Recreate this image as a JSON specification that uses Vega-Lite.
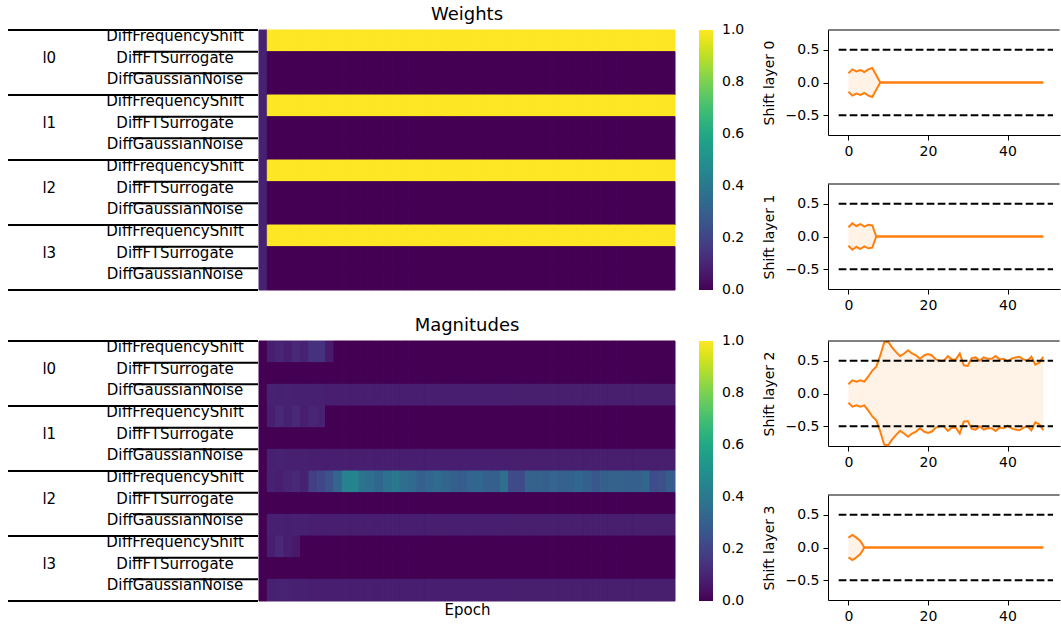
{
  "$schema": "https://vega.github.io/schema/vega-lite/v6.json",
  "background": "white",
  "padding": {"left": 7, "top": 5, "right": 0, "bottom": 0},
  "config": {
    "font": "DejaVu Sans",
    "view": {"stroke": null},
    "axis": {"labelColor": "black", "titleColor": "black", "domainColor": "black", "tickColor": "black", "titleFontWeight": "normal", "grid": false},
    "title": {"fontWeight": "normal", "fontSize": 18, "color": "black", "anchor": "middle", "offset": 6},
    "legend": {"labelColor": "black"}
  },
  "datasets": {
    "cells": [
      {"layer": "l0", "op": "DiffFrequencyShift",
       "epoch": [0,1,2,3,4,5,6,7,8,9,10,11,12,13,14,15,16,17,18,19,20,21,22,23,24,25,26,27,28,29,30,31,32,33,34,35,36,37,38,39,40,41,42,43,44,45,46,47,48,49],
       "weight": [0.09,1,1,1,1,1,1,1,1,1,1,1,1,1,1,1,1,1,1,1,1,1,1,1,1,1,1,1,1,1,1,1,1,1,1,1,1,1,1,1,1,1,1,1,1,1,1,1,1,1],
       "magnitude": [0,0.08,0.1,0.08,0.11,0.09,0.14,0.14,0.07,0,0,0,0,0,0,0,0,0,0,0,0,0,0,0,0,0,0,0,0,0,0,0,0,0,0,0,0,0,0,0,0,0,0,0,0,0,0,0,0,0]},
      {"layer": "l0", "op": "DiffFTSurrogate",
       "epoch": [0,1,2,3,4,5,6,7,8,9,10,11,12,13,14,15,16,17,18,19,20,21,22,23,24,25,26,27,28,29,30,31,32,33,34,35,36,37,38,39,40,41,42,43,44,45,46,47,48,49],
       "weight": [0.09,0,0,0,0,0,0,0,0,0,0,0,0,0,0,0,0,0,0,0,0,0,0,0,0,0,0,0,0,0,0,0,0,0,0,0,0,0,0,0,0,0,0,0,0,0,0,0,0,0],
       "magnitude": [0,0,0,0,0,0,0,0,0,0,0,0,0,0,0,0,0,0,0,0,0,0,0,0,0,0,0,0,0,0,0,0,0,0,0,0,0,0,0,0,0,0,0,0,0,0,0,0,0,0]},
      {"layer": "l0", "op": "DiffGaussianNoise",
       "epoch": [0,1,2,3,4,5,6,7,8,9,10,11,12,13,14,15,16,17,18,19,20,21,22,23,24,25,26,27,28,29,30,31,32,33,34,35,36,37,38,39,40,41,42,43,44,45,46,47,48,49],
       "weight": [0.09,0,0,0,0,0,0,0,0,0,0,0,0,0,0,0,0,0,0,0,0,0,0,0,0,0,0,0,0,0,0,0,0,0,0,0,0,0,0,0,0,0,0,0,0,0,0,0,0,0],
       "magnitude": [0,0.09,0.085,0.09,0.085,0.085,0.085,0.085,0.08,0.08,0.08,0.08,0.08,0.08,0.08,0.08,0.08,0.08,0.08,0.08,0.08,0.08,0.08,0.08,0.08,0.08,0.08,0.08,0.08,0.08,0.078,0.078,0.078,0.078,0.078,0.078,0.078,0.078,0.078,0.078,0.078,0.078,0.078,0.078,0.078,0.078,0.078,0.078,0.078,0.078]},
      {"layer": "l1", "op": "DiffFrequencyShift",
       "epoch": [0,1,2,3,4,5,6,7,8,9,10,11,12,13,14,15,16,17,18,19,20,21,22,23,24,25,26,27,28,29,30,31,32,33,34,35,36,37,38,39,40,41,42,43,44,45,46,47,48,49],
       "weight": [0.09,1,1,1,1,1,1,1,1,1,1,1,1,1,1,1,1,1,1,1,1,1,1,1,1,1,1,1,1,1,1,1,1,1,1,1,1,1,1,1,1,1,1,1,1,1,1,1,1,1],
       "magnitude": [0,0.08,0.11,0.09,0.11,0.08,0.1,0.09,0,0,0,0,0,0,0,0,0,0,0,0,0,0,0,0,0,0,0,0,0,0,0,0,0,0,0,0,0,0,0,0,0,0,0,0,0,0,0,0,0,0]},
      {"layer": "l1", "op": "DiffFTSurrogate",
       "epoch": [0,1,2,3,4,5,6,7,8,9,10,11,12,13,14,15,16,17,18,19,20,21,22,23,24,25,26,27,28,29,30,31,32,33,34,35,36,37,38,39,40,41,42,43,44,45,46,47,48,49],
       "weight": [0.09,0,0,0,0,0,0,0,0,0,0,0,0,0,0,0,0,0,0,0,0,0,0,0,0,0,0,0,0,0,0,0,0,0,0,0,0,0,0,0,0,0,0,0,0,0,0,0,0,0],
       "magnitude": [0,0,0,0,0,0,0,0,0,0,0,0,0,0,0,0,0,0,0,0,0,0,0,0,0,0,0,0,0,0,0,0,0,0,0,0,0,0,0,0,0,0,0,0,0,0,0,0,0,0]},
      {"layer": "l1", "op": "DiffGaussianNoise",
       "epoch": [0,1,2,3,4,5,6,7,8,9,10,11,12,13,14,15,16,17,18,19,20,21,22,23,24,25,26,27,28,29,30,31,32,33,34,35,36,37,38,39,40,41,42,43,44,45,46,47,48,49],
       "weight": [0.09,0,0,0,0,0,0,0,0,0,0,0,0,0,0,0,0,0,0,0,0,0,0,0,0,0,0,0,0,0,0,0,0,0,0,0,0,0,0,0,0,0,0,0,0,0,0,0,0,0],
       "magnitude": [0,0.085,0.09,0.085,0.085,0.085,0.08,0.08,0.08,0.08,0.08,0.08,0.08,0.08,0.08,0.08,0.08,0.08,0.08,0.08,0.08,0.08,0.08,0.08,0.08,0.08,0.08,0.08,0.08,0.08,0.078,0.078,0.078,0.078,0.078,0.078,0.078,0.078,0.078,0.078,0.078,0.078,0.078,0.078,0.078,0.078,0.078,0.078,0.078,0.078]},
      {"layer": "l2", "op": "DiffFrequencyShift",
       "epoch": [0,1,2,3,4,5,6,7,8,9,10,11,12,13,14,15,16,17,18,19,20,21,22,23,24,25,26,27,28,29,30,31,32,33,34,35,36,37,38,39,40,41,42,43,44,45,46,47,48,49],
       "weight": [0.09,1,1,1,1,1,1,1,1,1,1,1,1,1,1,1,1,1,1,1,1,1,1,1,1,1,1,1,1,1,1,1,1,1,1,1,1,1,1,1,1,1,1,1,1,1,1,1,1,1],
       "magnitude": [0,0.09,0.08,0.1,0.11,0.09,0.18,0.21,0.25,0.32,0.44,0.45,0.38,0.36,0.33,0.37,0.4,0.36,0.34,0.3,0.33,0.34,0.33,0.3,0.29,0.32,0.33,0.3,0.3,0.36,0.22,0.22,0.31,0.31,0.3,0.32,0.3,0.31,0.33,0.3,0.27,0.3,0.31,0.31,0.3,0.3,0.33,0.23,0.24,0.29]},
      {"layer": "l2", "op": "DiffFTSurrogate",
       "epoch": [0,1,2,3,4,5,6,7,8,9,10,11,12,13,14,15,16,17,18,19,20,21,22,23,24,25,26,27,28,29,30,31,32,33,34,35,36,37,38,39,40,41,42,43,44,45,46,47,48,49],
       "weight": [0.09,0,0,0,0,0,0,0,0,0,0,0,0,0,0,0,0,0,0,0,0,0,0,0,0,0,0,0,0,0,0,0,0,0,0,0,0,0,0,0,0,0,0,0,0,0,0,0,0,0],
       "magnitude": [0,0,0,0,0,0,0,0,0,0,0,0,0,0,0,0,0,0,0,0,0,0,0,0,0,0,0,0,0,0,0,0,0,0,0,0,0,0,0,0,0,0,0,0,0,0,0,0,0,0]},
      {"layer": "l2", "op": "DiffGaussianNoise",
       "epoch": [0,1,2,3,4,5,6,7,8,9,10,11,12,13,14,15,16,17,18,19,20,21,22,23,24,25,26,27,28,29,30,31,32,33,34,35,36,37,38,39,40,41,42,43,44,45,46,47,48,49],
       "weight": [0.09,0,0,0,0,0,0,0,0,0,0,0,0,0,0,0,0,0,0,0,0,0,0,0,0,0,0,0,0,0,0,0,0,0,0,0,0,0,0,0,0,0,0,0,0,0,0,0,0,0],
       "magnitude": [0,0.085,0.085,0.08,0.085,0.085,0.08,0.08,0.08,0.08,0.08,0.08,0.08,0.08,0.08,0.08,0.08,0.08,0.08,0.08,0.08,0.08,0.08,0.08,0.08,0.08,0.08,0.08,0.08,0.08,0.078,0.078,0.078,0.078,0.078,0.078,0.078,0.078,0.078,0.078,0.078,0.078,0.078,0.078,0.078,0.078,0.078,0.078,0.078,0.078]},
      {"layer": "l3", "op": "DiffFrequencyShift",
       "epoch": [0,1,2,3,4,5,6,7,8,9,10,11,12,13,14,15,16,17,18,19,20,21,22,23,24,25,26,27,28,29,30,31,32,33,34,35,36,37,38,39,40,41,42,43,44,45,46,47,48,49],
       "weight": [0.09,1,1,1,1,1,1,1,1,1,1,1,1,1,1,1,1,1,1,1,1,1,1,1,1,1,1,1,1,1,1,1,1,1,1,1,1,1,1,1,1,1,1,1,1,1,1,1,1,1],
       "magnitude": [0,0.08,0.11,0.08,0.06,0,0,0,0,0,0,0,0,0,0,0,0,0,0,0,0,0,0,0,0,0,0,0,0,0,0,0,0,0,0,0,0,0,0,0,0,0,0,0,0,0,0,0,0,0]},
      {"layer": "l3", "op": "DiffFTSurrogate",
       "epoch": [0,1,2,3,4,5,6,7,8,9,10,11,12,13,14,15,16,17,18,19,20,21,22,23,24,25,26,27,28,29,30,31,32,33,34,35,36,37,38,39,40,41,42,43,44,45,46,47,48,49],
       "weight": [0.09,0,0,0,0,0,0,0,0,0,0,0,0,0,0,0,0,0,0,0,0,0,0,0,0,0,0,0,0,0,0,0,0,0,0,0,0,0,0,0,0,0,0,0,0,0,0,0,0,0],
       "magnitude": [0,0,0,0,0,0,0,0,0,0,0,0,0,0,0,0,0,0,0,0,0,0,0,0,0,0,0,0,0,0,0,0,0,0,0,0,0,0,0,0,0,0,0,0,0,0,0,0,0,0]},
      {"layer": "l3", "op": "DiffGaussianNoise",
       "epoch": [0,1,2,3,4,5,6,7,8,9,10,11,12,13,14,15,16,17,18,19,20,21,22,23,24,25,26,27,28,29,30,31,32,33,34,35,36,37,38,39,40,41,42,43,44,45,46,47,48,49],
       "weight": [0.09,0,0,0,0,0,0,0,0,0,0,0,0,0,0,0,0,0,0,0,0,0,0,0,0,0,0,0,0,0,0,0,0,0,0,0,0,0,0,0,0,0,0,0,0,0,0,0,0,0],
       "magnitude": [0,0.085,0.09,0.09,0.085,0.085,0.08,0.08,0.08,0.08,0.08,0.08,0.08,0.08,0.08,0.08,0.08,0.08,0.08,0.08,0.08,0.08,0.08,0.08,0.08,0.08,0.08,0.08,0.08,0.08,0.078,0.078,0.078,0.078,0.078,0.078,0.078,0.078,0.078,0.078,0.078,0.078,0.078,0.078,0.078,0.078,0.078,0.078,0.078,0.078]}
    ],
    "shifts": [
      {"layer": 0,
       "epoch": [0,1,2,3,4,5,6,7,8,9,10,11,12,13,14,15,16,17,18,19,20,21,22,23,24,25,26,27,28,29,30,31,32,33,34,35,36,37,38,39,40,41,42,43,44,45,46,47,48,49],
       "high": [0.14,0.2,0.17,0.19,0.16,0.2,0.22,0.11,0,0,0,0,0,0,0,0,0,0,0,0,0,0,0,0,0,0,0,0,0,0,0,0,0,0,0,0,0,0,0,0,0,0,0,0,0,0,0,0,0,0],
       "low": [-0.14,-0.2,-0.17,-0.19,-0.16,-0.2,-0.22,-0.11,0,0,0,0,0,0,0,0,0,0,0,0,0,0,0,0,0,0,0,0,0,0,0,0,0,0,0,0,0,0,0,0,0,0,0,0,0,0,0,0,0,0]},
      {"layer": 1,
       "epoch": [0,1,2,3,4,5,6,7,8,9,10,11,12,13,14,15,16,17,18,19,20,21,22,23,24,25,26,27,28,29,30,31,32,33,34,35,36,37,38,39,40,41,42,43,44,45,46,47,48,49],
       "high": [0.14,0.2,0.16,0.19,0.15,0.18,0.17,0,0,0,0,0,0,0,0,0,0,0,0,0,0,0,0,0,0,0,0,0,0,0,0,0,0,0,0,0,0,0,0,0,0,0,0,0,0,0,0,0,0,0],
       "low": [-0.14,-0.2,-0.16,-0.19,-0.15,-0.18,-0.17,0,0,0,0,0,0,0,0,0,0,0,0,0,0,0,0,0,0,0,0,0,0,0,0,0,0,0,0,0,0,0,0,0,0,0,0,0,0,0,0,0,0,0]},
      {"layer": 2,
       "epoch": [0,1,2,3,4,5,6,7,8,9,10,11,12,13,14,15,16,17,18,19,20,21,22,23,24,25,26,27,28,29,30,31,32,33,34,35,36,37,38,39,40,41,42,43,44,45,46,47,48,49],
       "high": [0.14,0.2,0.18,0.2,0.18,0.26,0.35,0.41,0.58,0.78,0.79,0.7,0.63,0.57,0.61,0.66,0.61,0.58,0.53,0.58,0.6,0.58,0.52,0.5,0.5,0.57,0.52,0.52,0.61,0.43,0.42,0.54,0.55,0.5,0.55,0.53,0.53,0.57,0.52,0.53,0.49,0.53,0.55,0.56,0.52,0.5,0.56,0.44,0.47,0.56],
       "low": [-0.14,-0.2,-0.18,-0.2,-0.18,-0.26,-0.35,-0.41,-0.58,-0.78,-0.79,-0.7,-0.63,-0.57,-0.61,-0.66,-0.61,-0.58,-0.53,-0.58,-0.6,-0.58,-0.52,-0.5,-0.5,-0.57,-0.52,-0.52,-0.61,-0.43,-0.42,-0.54,-0.55,-0.5,-0.55,-0.53,-0.53,-0.57,-0.52,-0.53,-0.49,-0.53,-0.55,-0.56,-0.52,-0.5,-0.56,-0.44,-0.47,-0.56]},
      {"layer": 3,
       "epoch": [0,1,2,3,4,5,6,7,8,9,10,11,12,13,14,15,16,17,18,19,20,21,22,23,24,25,26,27,28,29,30,31,32,33,34,35,36,37,38,39,40,41,42,43,44,45,46,47,48,49],
       "high": [0.15,0.19,0.15,0.1,0,0,0,0,0,0,0,0,0,0,0,0,0,0,0,0,0,0,0,0,0,0,0,0,0,0,0,0,0,0,0,0,0,0,0,0,0,0,0,0,0,0,0,0,0,0],
       "low": [-0.15,-0.19,-0.15,-0.1,0,0,0,0,0,0,0,0,0,0,0,0,0,0,0,0,0,0,0,0,0,0,0,0,0,0,0,0,0,0,0,0,0,0,0,0,0,0,0,0,0,0,0,0,0,0]}
    ]
  },
  "spacing": 17,
  "hconcat": [
    {
      "spacing": 19,
      "resolve": {"scale": {"color": "independent"}, "legend": {"color": "independent"}},
      "vconcat": [
        {
          "spacing": -1,
          "resolve": {"scale": {"color": "independent"}, "legend": {"color": "independent"}},
          "hconcat": [
            {
              "width": 250, "height": 260,
              "data": {"name": "cells"},
              "transform": [{"calculate": "datum.layer + ' ' + datum.op", "as": "slot"}],
              "encoding": {
                "y": {"field": "slot", "type": "nominal", "axis": null,
                      "scale": {"domain": ["l0 DiffFrequencyShift","l0 DiffFTSurrogate","l0 DiffGaussianNoise","l1 DiffFrequencyShift","l1 DiffFTSurrogate","l1 DiffGaussianNoise","l2 DiffFrequencyShift","l2 DiffFTSurrogate","l2 DiffGaussianNoise","l3 DiffFrequencyShift","l3 DiffFTSurrogate","l3 DiffGaussianNoise"], "paddingInner": 0, "paddingOuter": 0}}
              },
              "layer": [
                {"mark": {"type": "text", "fontSize": 15, "align": "center", "baseline": "alphabetic", "color": "black"},
                 "encoding": {"x": {"datum": 0.668, "type": "quantitative", "scale": {"domain": [0, 1]}, "axis": null}, "text": {"field": "op"}}},
                {"transform": [{"filter": "datum.op === 'DiffFTSurrogate'"}],
                 "mark": {"type": "text", "fontSize": 15, "align": "center", "baseline": "alphabetic", "color": "black"},
                 "encoding": {"x": {"datum": 0.165, "type": "quantitative"}, "text": {"field": "layer"}}},
                {"transform": [{"filter": "datum.op === 'DiffFrequencyShift'"}],
                 "mark": {"type": "rule", "color": "black", "strokeWidth": 2},
                 "encoding": {"x": {"datum": 0, "type": "quantitative"}, "x2": {"datum": 1}, "y": {"field": "slot", "type": "nominal", "bandPosition": 0}}},
                {"transform": [{"filter": "datum.op === 'DiffGaussianNoise'"}],
                 "mark": {"type": "rule", "color": "black", "strokeWidth": 2},
                 "encoding": {"x": {"datum": 0, "type": "quantitative"}, "x2": {"datum": 1}, "y": {"field": "slot", "type": "nominal", "bandPosition": 1}}},
                {"mark": {"type": "rule", "color": "black", "strokeWidth": 2},
                 "encoding": {"x": {"datum": 0.5, "type": "quantitative"}, "x2": {"datum": 1}, "y": {"field": "slot", "type": "nominal", "bandPosition": 0}}}
              ]
            },
            {
              "width": 416, "height": 260,
              "title": "Weights",
              "data": {"name": "cells"},
              "transform": [{"flatten": ["epoch", "weight", "magnitude"]}, {"calculate": "datum.layer + ' ' + datum.op", "as": "slot"}],
              "mark": {"type": "rect", "strokeWidth": 1},
              "encoding": {
                "x": {"field": "epoch", "type": "ordinal", "axis": null, "scale": {"paddingInner": 0, "paddingOuter": 0}},
                "y": {"field": "slot", "type": "nominal", "axis": null,
                      "scale": {"domain": ["l0 DiffFrequencyShift","l0 DiffFTSurrogate","l0 DiffGaussianNoise","l1 DiffFrequencyShift","l1 DiffFTSurrogate","l1 DiffGaussianNoise","l2 DiffFrequencyShift","l2 DiffFTSurrogate","l2 DiffGaussianNoise","l3 DiffFrequencyShift","l3 DiffFTSurrogate","l3 DiffGaussianNoise"], "paddingInner": 0, "paddingOuter": 0}},
                "stroke": {"field": "weight", "type": "quantitative", "scale": {"scheme": "viridis", "domain": [0, 1]}, "legend": null},
                "color": {"field": "weight", "type": "quantitative", "scale": {"scheme": "viridis", "domain": [0, 1]},
                          "legend": {"title": null, "direction": "vertical", "gradientLength": 260, "gradientThickness": 14, "gradientStrokeWidth": 0, "labelOffset": 9, "labelFontSize": 14, "values": [0, 0.2, 0.4, 0.6, 0.8, 1], "format": ".1f", "offset": 24, "padding": 0, "labelOverlap": false,
                                     "encode": {"labels": {"update": {"baseline": {"value": "middle"}}}}}}
              }
            }
          ]
        },
        {
          "spacing": -1,
          "resolve": {"scale": {"color": "independent"}, "legend": {"color": "independent"}},
          "hconcat": [
            {
              "width": 250, "height": 260,
              "data": {"name": "cells"},
              "transform": [{"calculate": "datum.layer + ' ' + datum.op", "as": "slot"}],
              "encoding": {
                "y": {"field": "slot", "type": "nominal", "axis": null,
                      "scale": {"domain": ["l0 DiffFrequencyShift","l0 DiffFTSurrogate","l0 DiffGaussianNoise","l1 DiffFrequencyShift","l1 DiffFTSurrogate","l1 DiffGaussianNoise","l2 DiffFrequencyShift","l2 DiffFTSurrogate","l2 DiffGaussianNoise","l3 DiffFrequencyShift","l3 DiffFTSurrogate","l3 DiffGaussianNoise"], "paddingInner": 0, "paddingOuter": 0}}
              },
              "layer": [
                {"mark": {"type": "text", "fontSize": 15, "align": "center", "baseline": "alphabetic", "color": "black"},
                 "encoding": {"x": {"datum": 0.668, "type": "quantitative", "scale": {"domain": [0, 1]}, "axis": null}, "text": {"field": "op"}}},
                {"transform": [{"filter": "datum.op === 'DiffFTSurrogate'"}],
                 "mark": {"type": "text", "fontSize": 15, "align": "center", "baseline": "alphabetic", "color": "black"},
                 "encoding": {"x": {"datum": 0.165, "type": "quantitative"}, "text": {"field": "layer"}}},
                {"transform": [{"filter": "datum.op === 'DiffFrequencyShift'"}],
                 "mark": {"type": "rule", "color": "black", "strokeWidth": 2},
                 "encoding": {"x": {"datum": 0, "type": "quantitative"}, "x2": {"datum": 1}, "y": {"field": "slot", "type": "nominal", "bandPosition": 0}}},
                {"transform": [{"filter": "datum.op === 'DiffGaussianNoise'"}],
                 "mark": {"type": "rule", "color": "black", "strokeWidth": 2},
                 "encoding": {"x": {"datum": 0, "type": "quantitative"}, "x2": {"datum": 1}, "y": {"field": "slot", "type": "nominal", "bandPosition": 1}}},
                {"mark": {"type": "rule", "color": "black", "strokeWidth": 2},
                 "encoding": {"x": {"datum": 0.5, "type": "quantitative"}, "x2": {"datum": 1}, "y": {"field": "slot", "type": "nominal", "bandPosition": 0}}}
              ]
            },
            {
              "width": 416, "height": 260,
              "title": "Magnitudes",
              "data": {"name": "cells"},
              "transform": [{"flatten": ["epoch", "weight", "magnitude"]}, {"calculate": "datum.layer + ' ' + datum.op", "as": "slot"}],
              "mark": {"type": "rect", "strokeWidth": 1},
              "encoding": {
                "x": {"field": "epoch", "type": "ordinal", "scale": {"paddingInner": 0, "paddingOuter": 0},
                      "axis": {"title": "Epoch", "labels": false, "ticks": false, "domain": false, "titleFontSize": 15, "titlePadding": 1}},
                "y": {"field": "slot", "type": "nominal", "axis": null,
                      "scale": {"domain": ["l0 DiffFrequencyShift","l0 DiffFTSurrogate","l0 DiffGaussianNoise","l1 DiffFrequencyShift","l1 DiffFTSurrogate","l1 DiffGaussianNoise","l2 DiffFrequencyShift","l2 DiffFTSurrogate","l2 DiffGaussianNoise","l3 DiffFrequencyShift","l3 DiffFTSurrogate","l3 DiffGaussianNoise"], "paddingInner": 0, "paddingOuter": 0}},
                "stroke": {"field": "magnitude", "type": "quantitative", "scale": {"scheme": "viridis", "domain": [0, 1]}, "legend": null},
                "color": {"field": "magnitude", "type": "quantitative", "scale": {"scheme": "viridis", "domain": [0, 1]},
                          "legend": {"title": null, "direction": "vertical", "gradientLength": 260, "gradientThickness": 14, "gradientStrokeWidth": 0, "labelOffset": 9, "labelFontSize": 14, "values": [0, 0.2, 0.4, 0.6, 0.8, 1], "format": ".1f", "offset": 24, "padding": 0, "labelOverlap": false,
                                     "encode": {"labels": {"update": {"baseline": {"value": "middle"}}}}}}
              }
            }
          ]
        }
      ]
    },
    {
      "spacing": 25,
      "vconcat": [
        {
          "width": 232, "height": 105,
          "layer": [
            {"data": {"name": "shifts"},
             "transform": [{"filter": "datum.layer === 0"}, {"flatten": ["epoch", "high", "low"]}],
             "encoding": {
               "x": {"field": "epoch", "type": "quantitative", "scale": {"domain": [-5.14, 53.2], "nice": false, "zero": false},
                     "axis": {"values": [0, 20, 40], "title": null, "labelFontSize": 14, "tickSize": 5, "labelPadding": 4}}
             },
             "layer": [
               {"mark": {"type": "area", "color": "#ff7f0e", "opacity": 0.1},
                "encoding": {"y": {"field": "high", "type": "quantitative", "scale": {"domain": [-0.8, 0.8], "nice": false, "zero": false},
                                   "axis": {"values": [-0.5, 0, 0.5], "format": ".1f", "title": "Shift layer 0", "labelFontSize": 14, "titleFontSize": 14, "tickSize": 5, "labelPadding": 4, "titlePadding": 9}},
                             "y2": {"field": "low"}}},
               {"mark": {"type": "line", "color": "#ff7f0e", "strokeWidth": 2}, "encoding": {"y": {"field": "high", "type": "quantitative"}}},
               {"mark": {"type": "line", "color": "#ff7f0e", "strokeWidth": 2}, "encoding": {"y": {"field": "low", "type": "quantitative"}}}
             ]},
            {"data": {"values": [{"bound": 0.5}, {"bound": -0.5}]},
             "mark": {"type": "rule", "color": "black", "strokeWidth": 2, "strokeDash": [7.7, 3.3]},
             "encoding": {"x": {"datum": -2.45, "type": "quantitative"}, "x2": {"datum": 51.45}, "y": {"field": "bound", "type": "quantitative"}}},
            {"data": {"values": [{"edge": 0.8}]},
             "mark": {"type": "rule", "color": "black", "strokeWidth": 1},
             "encoding": {"x": {"datum": -5.14, "type": "quantitative"}, "x2": {"datum": 53.1}, "y": {"field": "edge", "type": "quantitative"}}}
          ]
        },
        {
          "width": 232, "height": 105,
          "layer": [
            {"data": {"name": "shifts"},
             "transform": [{"filter": "datum.layer === 1"}, {"flatten": ["epoch", "high", "low"]}],
             "encoding": {
               "x": {"field": "epoch", "type": "quantitative", "scale": {"domain": [-5.14, 53.2], "nice": false, "zero": false},
                     "axis": {"values": [0, 20, 40], "title": null, "labelFontSize": 14, "tickSize": 5, "labelPadding": 4}}
             },
             "layer": [
               {"mark": {"type": "area", "color": "#ff7f0e", "opacity": 0.1},
                "encoding": {"y": {"field": "high", "type": "quantitative", "scale": {"domain": [-0.8, 0.8], "nice": false, "zero": false},
                                   "axis": {"values": [-0.5, 0, 0.5], "format": ".1f", "title": "Shift layer 1", "labelFontSize": 14, "titleFontSize": 14, "tickSize": 5, "labelPadding": 4, "titlePadding": 9}},
                             "y2": {"field": "low"}}},
               {"mark": {"type": "line", "color": "#ff7f0e", "strokeWidth": 2}, "encoding": {"y": {"field": "high", "type": "quantitative"}}},
               {"mark": {"type": "line", "color": "#ff7f0e", "strokeWidth": 2}, "encoding": {"y": {"field": "low", "type": "quantitative"}}}
             ]},
            {"data": {"values": [{"bound": 0.5}, {"bound": -0.5}]},
             "mark": {"type": "rule", "color": "black", "strokeWidth": 2, "strokeDash": [7.7, 3.3]},
             "encoding": {"x": {"datum": -2.45, "type": "quantitative"}, "x2": {"datum": 51.45}, "y": {"field": "bound", "type": "quantitative"}}},
            {"data": {"values": [{"edge": 0.8}]},
             "mark": {"type": "rule", "color": "black", "strokeWidth": 1},
             "encoding": {"x": {"datum": -5.14, "type": "quantitative"}, "x2": {"datum": 53.1}, "y": {"field": "edge", "type": "quantitative"}}}
          ]
        },
        {
          "width": 232, "height": 105,
          "layer": [
            {"data": {"name": "shifts"},
             "transform": [{"filter": "datum.layer === 2"}, {"flatten": ["epoch", "high", "low"]}],
             "encoding": {
               "x": {"field": "epoch", "type": "quantitative", "scale": {"domain": [-5.14, 53.2], "nice": false, "zero": false},
                     "axis": {"values": [0, 20, 40], "title": null, "labelFontSize": 14, "tickSize": 5, "labelPadding": 4}}
             },
             "layer": [
               {"mark": {"type": "area", "color": "#ff7f0e", "opacity": 0.1},
                "encoding": {"y": {"field": "high", "type": "quantitative", "scale": {"domain": [-0.8, 0.8], "nice": false, "zero": false},
                                   "axis": {"values": [-0.5, 0, 0.5], "format": ".1f", "title": "Shift layer 2", "labelFontSize": 14, "titleFontSize": 14, "tickSize": 5, "labelPadding": 4, "titlePadding": 9}},
                             "y2": {"field": "low"}}},
               {"mark": {"type": "line", "color": "#ff7f0e", "strokeWidth": 2}, "encoding": {"y": {"field": "high", "type": "quantitative"}}},
               {"mark": {"type": "line", "color": "#ff7f0e", "strokeWidth": 2}, "encoding": {"y": {"field": "low", "type": "quantitative"}}}
             ]},
            {"data": {"values": [{"bound": 0.5}, {"bound": -0.5}]},
             "mark": {"type": "rule", "color": "black", "strokeWidth": 2, "strokeDash": [7.7, 3.3]},
             "encoding": {"x": {"datum": -2.45, "type": "quantitative"}, "x2": {"datum": 51.45}, "y": {"field": "bound", "type": "quantitative"}}},
            {"data": {"values": [{"edge": 0.8}]},
             "mark": {"type": "rule", "color": "black", "strokeWidth": 1},
             "encoding": {"x": {"datum": -5.14, "type": "quantitative"}, "x2": {"datum": 53.1}, "y": {"field": "edge", "type": "quantitative"}}}
          ]
        },
        {
          "width": 232, "height": 105,
          "layer": [
            {"data": {"name": "shifts"},
             "transform": [{"filter": "datum.layer === 3"}, {"flatten": ["epoch", "high", "low"]}],
             "encoding": {
               "x": {"field": "epoch", "type": "quantitative", "scale": {"domain": [-5.14, 53.2], "nice": false, "zero": false},
                     "axis": {"values": [0, 20, 40], "title": null, "labelFontSize": 14, "tickSize": 5, "labelPadding": 4}}
             },
             "layer": [
               {"mark": {"type": "area", "color": "#ff7f0e", "opacity": 0.1},
                "encoding": {"y": {"field": "high", "type": "quantitative", "scale": {"domain": [-0.8, 0.8], "nice": false, "zero": false},
                                   "axis": {"values": [-0.5, 0, 0.5], "format": ".1f", "title": "Shift layer 3", "labelFontSize": 14, "titleFontSize": 14, "tickSize": 5, "labelPadding": 4, "titlePadding": 9}},
                             "y2": {"field": "low"}}},
               {"mark": {"type": "line", "color": "#ff7f0e", "strokeWidth": 2}, "encoding": {"y": {"field": "high", "type": "quantitative"}}},
               {"mark": {"type": "line", "color": "#ff7f0e", "strokeWidth": 2}, "encoding": {"y": {"field": "low", "type": "quantitative"}}}
             ]},
            {"data": {"values": [{"bound": 0.5}, {"bound": -0.5}]},
             "mark": {"type": "rule", "color": "black", "strokeWidth": 2, "strokeDash": [7.7, 3.3]},
             "encoding": {"x": {"datum": -2.45, "type": "quantitative"}, "x2": {"datum": 51.45}, "y": {"field": "bound", "type": "quantitative"}}},
            {"data": {"values": [{"edge": 0.8}]},
             "mark": {"type": "rule", "color": "black", "strokeWidth": 1},
             "encoding": {"x": {"datum": -5.14, "type": "quantitative"}, "x2": {"datum": 53.1}, "y": {"field": "edge", "type": "quantitative"}}}
          ]
        }
      ]
    }
  ]
}
